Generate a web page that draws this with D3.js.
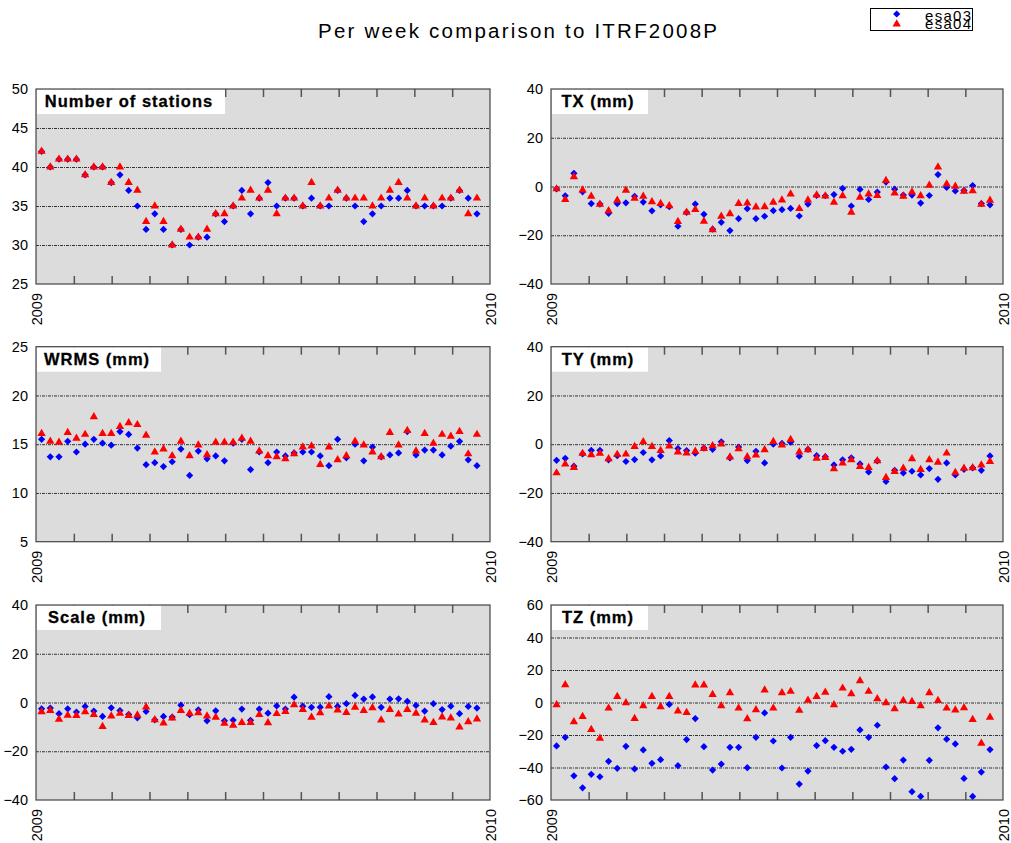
<!DOCTYPE html>
<html><head><meta charset="utf-8">
<script src="https://cdn.jsdelivr.net/npm/d3@7"></script>
<style>body{margin:0;background:#fff}svg{display:block}</style>
</head><body><svg id="c" width="1011" height="843"></svg>
<script>
// ---------- DATA ----------
const weeks = [1513,1514,1515,1516,1517,1518,1519,1520,1521,1522,1523,1524,1525,1526,1527,1528,1529,1530,1531,1532,1533,1534,1535,1536,1537,1538,1539,1540,1541,1542,1543,1544,1545,1546,1547,1548,1549,1550,1551,1552,1553,1554,1555,1556,1557,1558,1559,1560,1561,1562,1563];
const seriesNames = ["esa03","esa04"];
const panelLabels = ["Number of stations","TX (mm)","WRMS (mm)","TY (mm)","Scale (mm)","TZ (mm)"];
const yTicks = [
  [25,30,35,40,45,50],
  [-40,-20,0,20,40],
  [5,10,15,20,25],
  [-40,-20,0,20,40],
  [-40,-20,0,20,40],
  [-60,-40,-20,0,20,40,60]
];
const xLabels = [2009, 2010];

const stations03 = [42,40,41,41,41,39,40,40,38,39,37,35,32,34,32,30,32,30,31,31,34,33,35,37,34,36,38,35,36,36,35,36,35,35,37,36,35,33,34,35,36,36,37,35,35,35,35,36,37,36,34];
const stations04 = [42,40,41,41,41,39,40,40,38,40,38,37,33,35,33,30,32,31,31,32,34,34,35,36,37,36,37,34,36,36,35,38,35,36,37,36,36,36,35,36,37,38,36,35,36,35,36,36,37,34,36];

const tx03 = [-1,-3.8,5.4,-2.2,-7,-7.2,-11,-7,-6.7,-4,-6.4,-10,-7.5,-8.3,-16.3,-10.6,-7.2,-11.4,-17.5,-14.7,-18.1,-13.2,-9.1,-13.2,-12.2,-9.9,-9.5,-9,-12.1,-7.2,-3.7,-3.8,-3.3,-0.8,-8,-1.2,-5.3,-2.3,1.8,-1.1,-3.5,-3.5,-6.8,-3.7,4.9,-0.4,-1.8,-1.6,0.4,-7,-7.5];
const tx04 = [-1,-5.4,4,-1.5,-4,-7.3,-10,-5.7,-1.6,-4.9,-4,-6.3,-7,-7.9,-14.4,-10.6,-9.5,-14.3,-17.8,-12.2,-11.2,-7,-6.8,-8.4,-8.3,-6.5,-5.6,-3.1,-9.1,-5.6,-3.5,-3.9,-6.5,-3.8,-10.6,-4.4,-3.1,-3.7,2.4,-2.7,-4,-2.3,-3.8,0.5,8,1,0.1,-2,-1.8,-7.3,-5.7];

const wrms03 = [15.5,13.7,13.7,15.3,14.2,15.0,15.5,15.1,14.9,16.3,16.0,14.6,12.9,13.1,12.7,13.2,14.5,11.8,14.3,13.5,13.8,13.3,15.1,15.5,12.4,14.2,13.1,14.2,13.8,14.1,14.2,14.2,13.8,12.8,15.5,13.6,15.0,13.3,14.7,13.7,13.9,14.1,16.3,13.9,14.4,14.4,13.9,14.8,15.3,13.4,12.8];
const wrms04 = [16.1,15.3,15.2,16.2,15.6,16.0,17.8,16.1,16.1,16.8,17.2,17.0,15.9,14.2,14.5,13.8,15.3,13.8,14.9,13.9,15.2,15.2,15.2,15.6,15.3,14.3,13.8,13.7,13.5,14.0,14.7,14.8,12.9,14.7,13.4,13.8,15.3,14.9,14.2,13.7,16.2,14.9,16.4,14.3,16.1,15.1,16.0,15.8,16.3,14.0,16.0];

const ty03 = [-6.6,-5.8,-9.0,-4.0,-2.5,-2.5,-6.4,-4.7,-7.1,-6.3,-3.4,-6.4,-4.8,1.5,-1.8,-2.6,-3.7,-1.6,-2.1,1.0,-5.6,-1.2,-6.7,-2.9,-7.7,0,0.3,0.8,-4.9,-2.1,-4.7,-5.1,-8.5,-6.4,-5.6,-8.1,-11.4,-6.8,-15.3,-10.7,-11.8,-11.1,-12.6,-10.0,-14.4,-7.7,-12.6,-10.3,-9.7,-10.7,-4.8];
const ty04 = [-11.8,-8.2,-9.6,-3.8,-4.4,-3.8,-6.0,-4.2,-4.1,-1.0,1.0,-1.0,-2.6,-0.8,-3.2,-3.6,-2.9,-1.8,-0.7,0,-5.3,-1.9,-5.2,-4.5,-2.3,1.1,-0.4,1.9,-3.2,-2.3,-5.8,-5.5,-10.1,-7.8,-6.4,-9.2,-9.6,-6.8,-13.7,-11.2,-9.9,-6.0,-10.4,-6.4,-7.4,-3.7,-11.6,-9.9,-9.7,-8.6,-7.1];

const scale03 = [-2.6,-2.3,-4.6,-2.6,-3.9,-1.6,-3.5,-5.7,-2.2,-3.3,-4.9,-6.3,-3.7,-7.1,-5.7,-6.0,-1.1,-5.0,-3.0,-7.5,-3.4,-7.5,-7.2,-2.7,-7.3,-2.7,-4.4,-1.4,-2.7,2.2,-1.5,-2.0,-1.9,2.4,-1.6,-0.5,2.9,1.4,2.3,-2.0,1.4,1.5,0.5,-1.2,-3.5,-0.5,-2.9,-1.5,-4.6,-1.6,-2.3];
const scale04 = [-3.8,-3.3,-6.9,-5.3,-5.4,-3.8,-5.0,-9.9,-5.6,-4.5,-5.4,-5.2,-1.9,-7.1,-8.4,-6.4,-3.3,-4.5,-4.2,-5.6,-6.1,-8.6,-9.4,-8.2,-8.2,-5.0,-8.3,-4.6,-3.7,-1.0,-2.9,-6.1,-4.2,-1.5,-3.1,-4.1,-2.0,-3.3,-2.2,-7.2,-2.9,-4.8,-2.9,-4.4,-7.2,-8.2,-6.0,-6.4,-10.1,-7.9,-6.8];

const tz03 = [-26.7,-21.4,-45.1,-52.5,-44.2,-45.7,-36.2,-40.5,-27.0,-40.9,-29.2,-37.4,-35.2,-1.2,-38.9,-22.8,-9.9,-27.2,-41.6,-37.9,-27.6,-27.6,-40.1,-21.4,-6.4,-23.7,-40.3,-21.4,-50.2,-42.2,-26.5,-23.5,-27.6,-30.0,-28.8,-16.9,-21.4,-14.0,-39.7,-46.9,-35.4,-54.9,-57.8,-35.6,-15.6,-22.6,-25.5,-46.7,-57.8,-42.8,-29.0];
const tz04 = [-1.4,10.9,-11.9,-8.6,-16.7,-22.0,-3.5,3.7,-0.2,-9.9,-2.1,3.7,-2.7,3.7,-5.3,-6.2,10.7,10.7,4.9,-2.1,6.0,-3.5,-10.1,-4.5,7.6,-3.5,6.0,6.8,-4.9,1.4,3.7,6.2,-1.4,8.8,5.3,13.4,6.8,2.3,-0.2,-3.9,1.2,0.6,-2.1,6.0,1.2,-3.5,-4.7,-3.3,-10.5,-25.1,-9.1];

const values03 = [stations03, tx03, wrms03, ty03, scale03, tz03];
const values04 = [stations04, tx04, wrms04, ty04, scale04, tz04];

// ---------- LAYOUT ----------
const colX = [[36,490],[551,1003]];
const rowY = [[89,284],[346.7,541.7],[605,800]];
const boxW = [188,96,124,96,124,96];
const COLORS = {esa03:"#0000ff", esa04:"#ff0000"};
const FONT = "'Liberation Sans', Arial, Helvetica, sans-serif";

// x position: GPS week -> decimal year
const gpsEpoch = Date.UTC(1980,0,6);
const y2009 = Date.UTC(2009,0,1);
function decYear(w){
  const t = gpsEpoch + (w*7 + 1.5)*86400000;
  return 2009 + (t - y2009)/(365*86400000);
}

const svg = d3.select("#c");
svg.append("rect").attr("width",1011).attr("height",843).attr("fill","#fff");

// title
svg.append("text").attr("x",517.5).attr("y",38).attr("text-anchor","middle")
  .attr("font-family",FONT).attr("font-size",20.5).attr("textLength",399).attr("lengthAdjust","spacing")
  .text("Per week comparison to ITRF2008P");

const diamond = d3.symbol(d3.symbolSquare, 26);
const triangle = d3.symbol(d3.symbolTriangle, 30);

panelLabels.forEach((label,i)=>{
  const [x0,x1] = colX[i%2];
  const [y0,y1] = rowY[Math.floor(i/2)];
  const ticks = yTicks[i];
  const x = d3.scaleLinear().domain([2009,2010]).range([x0,x1]);
  const y = d3.scaleLinear().domain(d3.extent(ticks)).range([y1,y0]);
  const g = svg.append("g");

  g.append("rect").attr("x",x0).attr("y",y0).attr("width",x1-x0).attr("height",y1-y0).attr("fill","#dcdcdc");

  // grid lines at interior ticks
  const grid = g.append("g").attr("transform",`translate(${x0},0)`)
    .call(d3.axisLeft(y).tickValues(ticks.slice(1,-1)).tickSize(-(x1-x0)).tickFormat(""));
  grid.select(".domain").remove();
  grid.selectAll("line").attr("stroke","#333").attr("stroke-width",1).attr("stroke-dasharray","3,1,1,1");

  // month ticks top & bottom
  const months = d3.range(1,12).map(m=>2009+m/12);
  const bt = g.append("g").attr("transform",`translate(0,${y1})`)
    .call(d3.axisTop(x).tickValues(months).tickSize(8).tickFormat(""));
  bt.select(".domain").remove();
  bt.selectAll("line").attr("stroke","#555").attr("stroke-width",1.5);
  const tt = g.append("g").attr("transform",`translate(0,${y0})`)
    .call(d3.axisBottom(x).tickValues(months).tickSize(8).tickFormat(""));
  tt.select(".domain").remove();
  tt.selectAll("line").attr("stroke","#555").attr("stroke-width",1.5);

  // label box
  g.append("rect").attr("x",x0+1).attr("y",y0+0.5).attr("width",boxW[i]).attr("height",24.5).attr("fill","#fff");
  g.append("text").attr("x",x0+1+boxW[i]/2 - 2).attr("y",y0+18).attr("text-anchor","middle")
    .attr("font-family",FONT).attr("font-weight","bold").attr("font-size",16.5).attr("letter-spacing",1)
    .attr("stroke","#000").attr("stroke-width",0.3)
    .text(label);

  // points
  const xs = weeks.map(decYear);
  g.append("g").selectAll("path").data(values03[i]).join("path")
    .attr("d",diamond).attr("fill",COLORS.esa03)
    .attr("transform",(d,k)=>`translate(${x(xs[k])},${y(d)}) rotate(45)`);
  g.append("g").selectAll("path").data(values04[i]).join("path")
    .attr("d",triangle).attr("fill",COLORS.esa04)
    .attr("transform",(d,k)=>`translate(${x(xs[k])},${y(d)})`);

  // border
  g.append("rect").attr("x",x0).attr("y",y0).attr("width",x1-x0).attr("height",y1-y0)
    .attr("fill","none").attr("stroke","#444").attr("stroke-width",1.2);

  // y labels
  const ya = g.append("g").attr("transform",`translate(${x0},0)`)
    .call(d3.axisLeft(y).tickValues(ticks).tickSize(0).tickPadding(8).tickFormat(d3.format("d")));
  ya.select(".domain").remove();
  ya.selectAll("text").attr("font-family",FONT).attr("font-size",14.5).attr("fill","#000");

  // x labels
  const xa = g.append("g").attr("transform",`translate(0,${y1})`)
    .call(d3.axisBottom(x).tickValues(xLabels).tickSize(0).tickFormat(d3.format("d")));
  xa.select(".domain").remove();
  xa.selectAll("text").attr("font-family",FONT).attr("font-size",14.5).attr("fill","#000")
    .attr("transform","rotate(-90)").attr("text-anchor","end")
    .attr("x",-9).attr("y",0).attr("dy","0.35em");
});

// legend
const lg = svg.append("g");
lg.append("rect").attr("x",870.5).attr("y",8.5).attr("width",102).attr("height",22)
  .attr("fill","#fff").attr("stroke","#000").attr("stroke-width",1);
seriesNames.forEach((s,k)=>{
  const cy = 14 + k*10;
  lg.append("path").attr("d", k===0 ? diamond : triangle).attr("fill",COLORS[s])
    .attr("transform",`translate(896.7,${cy})` + (k===0?" rotate(45)":""));
  lg.append("text").attr("x",971).attr("y",20.7 + k*8.6).attr("text-anchor","end")
    .attr("font-family",FONT).attr("font-size",15).attr("textLength",46).attr("lengthAdjust","spacing")
    .text(s);
});
</script></body></html>
